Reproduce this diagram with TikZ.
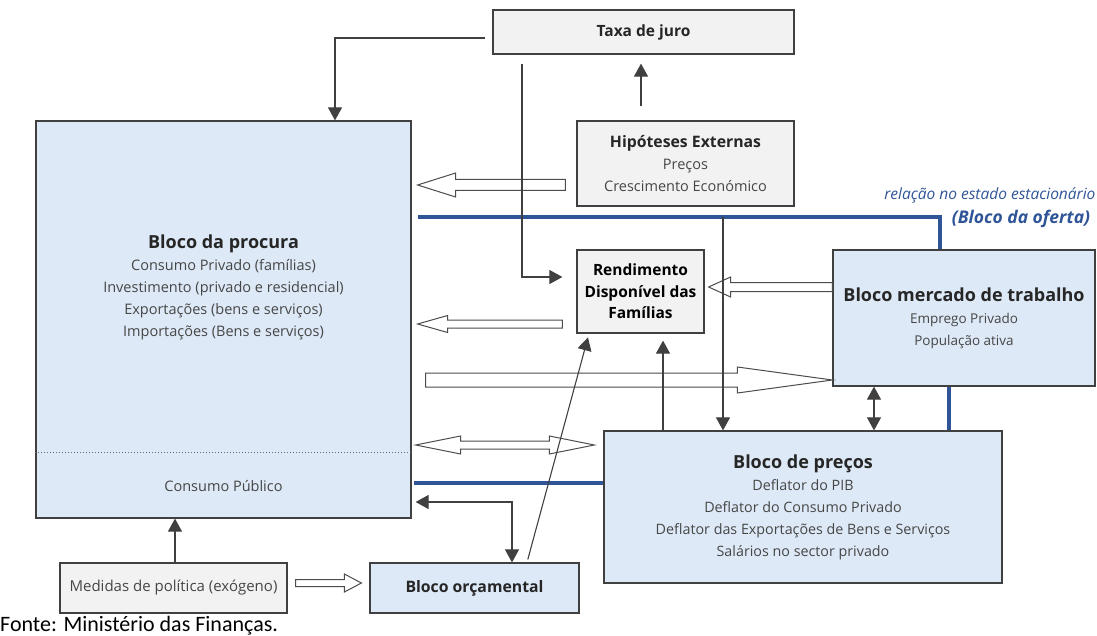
\documentclass[tikz,border=0pt]{standalone}
\usepackage{fontspec}
\setmainfont{Open Sans}
\newfontfamily\fontefont{Carlito}
\usepackage{tikz}
\usetikzlibrary{arrows.meta, calc}
\definecolor{boxblue}{RGB}{221,233,246}
\definecolor{boxgray}{RGB}{242,242,242}
\definecolor{lineblue}{RGB}{47,85,151}
\definecolor{txtgray}{RGB}{70,70,70}
\tikzset{
    block_blue/.style={rectangle, draw=black!75, line width=1.2pt, fill=boxblue, align=center, inner sep=0pt},
    block_gray/.style={rectangle, draw=black!75, line width=1.2pt, fill=boxgray, align=center, inner sep=0pt},
    body/.style={font=\fontsize{14.5}{22}\selectfont, text=txtgray, align=center},
    arrow/.style={-{Triangle[length=13pt,width=14pt]}, line width=1.1pt, draw=black!75},
    dbl_arrow/.style={{Triangle[length=13pt,width=14pt]}-{Triangle[length=13pt,width=14pt]}, line width=1.1pt, draw=black!75},
    blue_line/.style={line width=4pt, draw=lineblue},
    hollow/.style={draw=black!70, line width=1pt, fill=white}
}
% hollow block arrow: start, end, half shaft, half head, head length
\newcommand{\hollowarrow}[5]{%
    \draw[hollow] let \p1=#1, \p2=#2, \n1={sign(\x2-\x1)*#5} in
        (\x1,\y1+#3) -- (\x2-\n1,\y1+#3) -- (\x2-\n1,\y1+#4) -- (\x2,\y1)
        -- (\x2-\n1,\y1-#4) -- (\x2-\n1,\y1-#3) -- (\x1,\y1-#3) -- cycle;}
% hollow arrow with two heads, left to right
\newcommand{\hollowdouble}[5]{%
    \draw[hollow] let \p1=#1, \p2=#2 in
        (\x1,\y1) -- (\x1+#5,\y1+#4) -- (\x1+#5,\y1+#3) -- (\x2-#5,\y1+#3)
        -- (\x2-#5,\y1+#4) -- (\x2,\y1) -- (\x2-#5,\y1-#4) -- (\x2-#5,\y1-#3)
        -- (\x1+#5,\y1-#3) -- (\x1+#5,\y1-#4) -- cycle;}
\newcommand{\ttl}[2][18]{{\fontsize{#1}{22}\selectfont\bfseries\color{black!85}#2}}

\begin{document}
\begin{tikzpicture}[x=1pt, y=-1pt]
			\useasboundingbox (0,0) rectangle (1097,636);
			% blocks
			\node (procura) [block_blue, minimum width=375pt, minimum height=397pt] at (223.5,319.5) {};
			\node (procuratxt) [body] at (223.5,287) {\ttl{Bloco da procura}\\Consumo Privado (famílias)\\Investimento (privado e residencial)\\Exportações (bens e serviços)\\Importações (Bens e serviços)};
			\node (consumo) [body] at (223.5,486) {Consumo Público};
			\node (taxa) [block_gray, minimum width=301pt, minimum height=44pt] at (643.5,32) {\ttl[15.5]{Taxa de juro}};
			\node (hip) [block_gray, body, minimum width=217pt, minimum height=85pt] at (685.5,163.5) {\ttl[15.8]{Hipóteses Externas}\\Preços\\Crescimento Económico};
			\node (rend) [block_gray, minimum width=127pt, minimum height=83pt, font=\fontsize{15.5}{21.5}\selectfont\bfseries] at (640.5,291.5) {Rendimento\\Disponível das\\Famílias};
			\node (merc) [block_blue, body, font=\fontsize{13.5}{22}\selectfont, minimum width=262pt, minimum height=136pt] at (964,318) {\ttl{Bloco mercado de trabalho}\\Emprego Privado\\População ativa};
			\node (precos) [block_blue, body, font=\fontsize{14.3}{22}\selectfont, minimum width=398pt, minimum height=152pt] at (803,507) {\ttl{Bloco de preços}\\Deflator do PIB\\Deflator do Consumo Privado\\Deflator das Exportações de Bens e Serviços\\Salários no sector privado};
			\node (orc) [block_blue, minimum width=209pt, minimum height=50pt] at (474.5,588) {\ttl[15.8]{Bloco orçamental}};
			\node (med) [block_gray, body, font=\fontsize{15}{22}\selectfont, minimum width=227pt, minimum height=50pt] at (173.5,588) {Medidas de política (exógeno)};
			\node (relnote) [anchor=east, text=lineblue, font=\fontsize{15.5}{18}\selectfont\itshape] at (1099,195) {relação no estado estacionário};
			\node (oferta) [text=lineblue, font=\fontsize{17.5}{20}\selectfont\bfseries\itshape] at (1021,219) {(Bloco da oferta)};
			\node (fonte) [anchor=west, inner sep=0pt, font=\fontefont\fontsize{22}{24}\selectfont] at (0,626) {Fonte: Ministério das Finanças.};

			\draw[dotted, line width=1pt, draw=black!60] (procura.west |- 0,452) -- (procura.east |- 0,452);

			% blue lines
			\coordinate (jct) at (723,217);
			\draw [blue_line] ([xshift=6pt]procura.east |- jct) -| (merc.north -| 940,0);
			\draw [blue_line] (merc.south -| 949,0) -- (precos.north -| 949,0);
			\draw [blue_line] ([xshift=2pt]procura.east |- 0,483) -- (precos.west |- 0,483);

			% hollow arrows
			\hollowarrow{([xshift=-11pt]hip.west |- 0,185)}{([xshift=6pt]procura.east |- 0,185)}{5.5pt}{12pt}{38pt}
			\hollowarrow{(merc.west |- 0,287)}{([xshift=4pt]rend.east |- 0,287)}{4.5pt}{10pt}{22pt}
			\hollowarrow{([xshift=-14pt]rend.west |- 0,324)}{([xshift=6pt]procura.east |- 0,324)}{4pt}{8.5pt}{30pt}
			\hollowarrow{([xshift=14pt]procura.east |- 0,380)}{(merc.west |- 0,380)}{7pt}{13pt}{95pt}
			\hollowdouble{([xshift=4pt]procura.east |- 0,445)}{([xshift=-9pt]precos.west |- 0,445)}{4pt}{9pt}{45pt}
			\hollowarrow{([xshift=8pt]med.east |- 0,583)}{([xshift=-8pt]orc.west |- 0,583)}{3.5pt}{9pt}{17pt}

			% arrows
			\draw [arrow] ([xshift=-7pt, yshift=-6pt]taxa.west) -| (procura.north -| 335,0);
			\draw [arrow, shorten <=14pt, shorten >=9pt] (hip.north -| 641,0) -- (taxa.south -| 641,0);
			\draw [arrow, shorten <=9pt, shorten >=14pt] (taxa.south -| 522,0) |- (rend.west |- 0,277);
			\draw [arrow] (jct) -- (precos.north -| jct);
			\draw [arrow, shorten >=7pt] (precos.north -| 663,0) -- (rend.south -| 663,0);
			\draw [arrow, shorten <=3pt, shorten >=4pt] (orc.north -| 527,0) -- (rend.south -| 589,0);
			\draw [dbl_arrow, shorten <=4pt] (procura.east |- 0,502) -| (orc.north -| 512,0);
			\draw [dbl_arrow] (merc.south -| 874,0) -- (precos.north -| 874,0);
			\draw [arrow] (med.north -| 175,0) -- (procura.south -| 175,0);
		\end{tikzpicture}
\end{document}
